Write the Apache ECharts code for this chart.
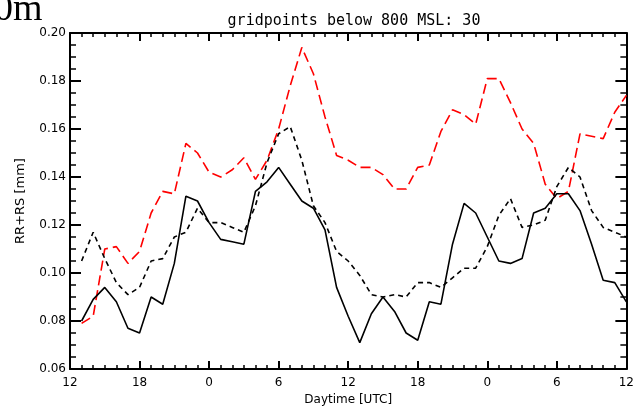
<!DOCTYPE html>
<html>
<head>
<meta charset="utf-8">
<script src="https://cdn.jsdelivr.net/npm/echarts@6/dist/echarts.min.js"></script>
<style>
  html, body { margin: 0; padding: 0; background: #fff; }
  #main { width: 637px; height: 412px; }
</style>
</head>
<body>
<div id="main"></div>
<script>
// hours since 12 UTC of day 1
var hours = [1, 2, 3, 4, 5, 6, 7, 8, 9, 10, 11, 12, 13, 14, 15, 16, 17, 18, 19, 20, 21, 22, 23, 24,
             25, 26, 27, 28, 29, 30, 31, 32, 33, 34, 35, 36, 37, 38, 39, 40, 41, 42, 43, 44, 45, 46, 47, 48];

// black solid
var solidVals = [0.080, 0.089, 0.094, 0.088, 0.077, 0.075, 0.090, 0.087, 0.104, 0.132, 0.130, 0.121,
                 0.114, 0.113, 0.112, 0.134, 0.138, 0.144, 0.137, 0.130, 0.127, 0.118, 0.094, 0.082,
                 0.071, 0.083, 0.090, 0.084, 0.075, 0.072, 0.088, 0.087, 0.112, 0.129, 0.125, 0.115,
                 0.105, 0.104, 0.106, 0.125, 0.127, 0.133, 0.133, 0.126, 0.112, 0.097, 0.096, 0.088];

// black dashed
var dashVals = [0.105, 0.117, 0.106, 0.096, 0.091, 0.094, 0.105, 0.106, 0.115, 0.117, 0.127, 0.121,
                0.121, 0.119, 0.117, 0.128, 0.146, 0.158, 0.161, 0.147, 0.128, 0.121, 0.109, 0.105,
                0.099, 0.091, 0.090, 0.091, 0.090, 0.096, 0.096, 0.094, 0.098, 0.102, 0.102, 0.111,
                0.124, 0.131, 0.119, 0.120, 0.122, 0.136, 0.144, 0.140, 0.126, 0.119, 0.117, 0.115];

// red dashed
var redVals = [0.079, 0.082, 0.110, 0.111, 0.104, 0.109, 0.125, 0.134, 0.133, 0.154, 0.150, 0.142,
               0.140, 0.143, 0.148, 0.139, 0.147, 0.160, 0.178, 0.194, 0.183, 0.165, 0.149, 0.147,
               0.144, 0.144, 0.141, 0.135, 0.135, 0.144, 0.145, 0.159, 0.168, 0.166, 0.162, 0.181,
               0.181, 0.171, 0.160, 0.154, 0.137, 0.131, 0.134, 0.158, 0.157, 0.156, 0.167, 0.174];

var yTicks = [0.06, 0.08, 0.10, 0.12, 0.14, 0.16, 0.18, 0.20];

function pairs(vals) {
    return hours.map(function(h, i) { return [h, vals[i]]; });
}

var font = 'DejaVu Sans';

function xAx(pos, labels) {
    return {
        type: 'value', position: pos, min: 0, max: 48, interval: 6,
        axisLine: { show: true, onZero: false, lineStyle: { color: '#000', width: 2 } },
        axisTick: { show: true, inside: true, length: 8, lineStyle: { color: '#000', width: 2 } },
        minorTick: { show: true, splitNumber: 6, length: 4, lineStyle: { color: '#000', width: 1.5 } },
        splitLine: { show: false },
        axisLabel: {
            show: labels, color: '#000', fontFamily: font, fontSize: 12, margin: 8,
            formatter: function(v) { return String((12 + v) % 24); }
        }
    };
}

function yAx(pos, labels) {
    return {
        type: 'value', position: pos, min: yTicks[0], max: yTicks[yTicks.length - 1], interval: 0.02,
        axisLine: { show: true, onZero: false, lineStyle: { color: '#000', width: 2 } },
        axisTick: { show: true, inside: true, length: 11, lineStyle: { color: '#000', width: 2 } },
        minorTick: { show: true, splitNumber: 4, length: 6, lineStyle: { color: '#000', width: 1.5 } },
        splitLine: { show: false },
        axisLabel: {
            show: labels, color: '#000', fontFamily: font, fontSize: 12, margin: 4,
            formatter: function(v) { return v.toFixed(2); }
        }
    };
}

var xBottom = xAx('bottom', true);
xBottom.name = 'Daytime [UTC]';
xBottom.nameLocation = 'middle';
xBottom.nameGap = 24;
xBottom.nameTextStyle = { color: '#000', fontFamily: font, fontSize: 12 };

var yLeft = yAx('left', true);
yLeft.name = 'RR+RS [mm]';
yLeft.nameLocation = 'middle';
yLeft.nameGap = 43;
yLeft.nameTextStyle = { color: '#000', fontFamily: font, fontSize: 13 };

var chart = echarts.init(document.getElementById('main'));
chart.setOption({
    animation: false,
    backgroundColor: '#fff',
    title: {
        text: 'gridpoints below 800 MSL: 30',
        left: 349, top: 9, textAlign: 'center',
        textStyle: { color: '#000', fontFamily: 'DejaVu Sans Mono', fontSize: 15, fontWeight: 'normal' }
    },
    graphic: [{
        type: 'text', left: -6, top: -9,
        style: { text: '0m', fontFamily: 'Liberation Serif', fontSize: 38, fill: '#000' }
    }],
    grid: { left: 70, right: 9, top: 33, bottom: 43 },
    xAxis: [xBottom, xAx('top', false)],
    yAxis: [yLeft, yAx('right', false)],
    series: [
        {
            type: 'line', data: pairs(redVals), showSymbol: false,
            lineStyle: { color: '#ff0000', width: 1.6, type: [10, 5] }
        },
        {
            type: 'line', data: pairs(dashVals), showSymbol: false,
            lineStyle: { color: '#000', width: 1.6, type: [5, 4] }
        },
        {
            type: 'line', data: pairs(solidVals), showSymbol: false,
            lineStyle: { color: '#000', width: 1.6 }
        }
    ]
});
</script>
</body>
</html>
